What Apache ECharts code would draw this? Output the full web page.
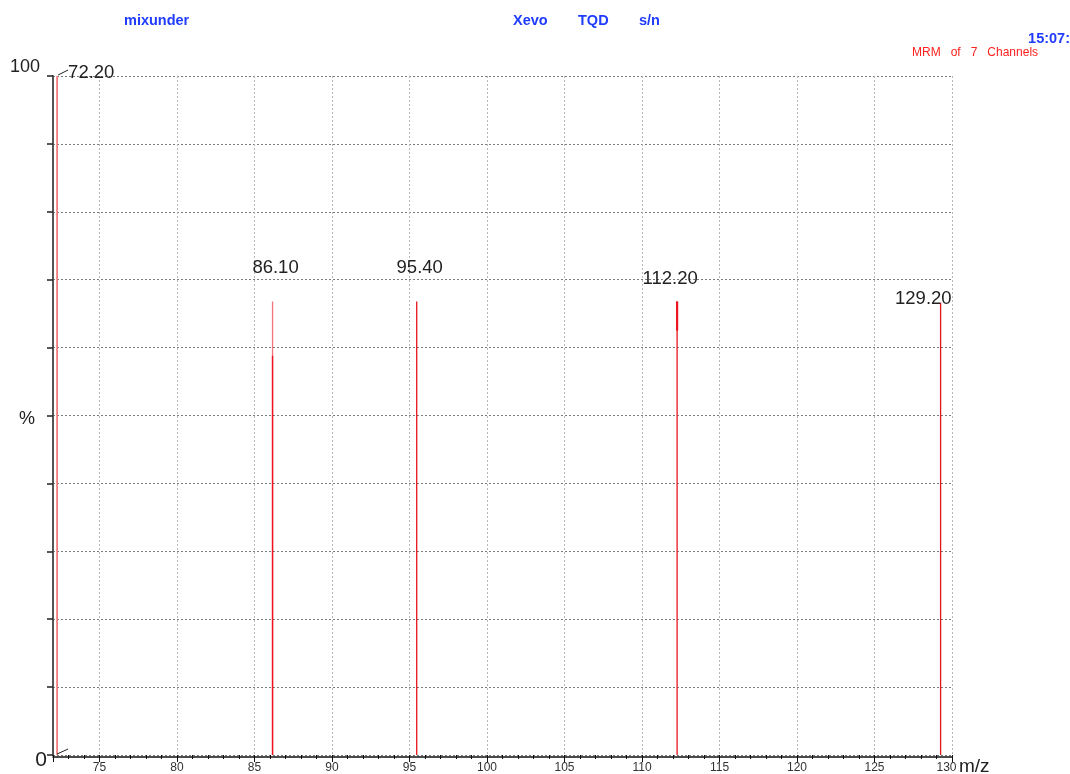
<!DOCTYPE html>
<html>
<head>
<meta charset="utf-8">
<script src="https://cdn.jsdelivr.net/npm/echarts@6/dist/echarts.min.js"></script>
<style>
  html, body { margin: 0; padding: 0; background: #fff; }
  #chart { width: 1070px; height: 774px; }
</style>
</head>
<body>
<div id="chart"></div>
<script>
// MRM spectrum: peak m/z values and relative intensities (%)
const peakMz = [72.2, 86.1, 95.4, 112.2, 129.2];
const peakIntensity = [100, 66.8, 66.8, 66.8, 66.6];
const peakLabels = ['72.20', '86.10', '95.40', '112.20', '129.20'];

// overlapping channel traces drawn on top of the main sticks
const traceMz = [86.1, 112.2];
const traceFrom = [0, 62.5];
const traceTo = [58.8, 66.8];

// axis range
const mzMin = 72;
const mzMax = 130;

// label placement relative to the stick top: [dx, dy, align]
const labelPlacement = [
  [12, 6, 'left'],
  [4, -24, 'center'],
  [4, -24, 'center'],
  [-6, -13, 'center'],
  [12, 6, 'right']
];

const FONT = '"Liberation Sans", Arial, sans-serif';

const chart = echarts.init(document.getElementById('chart'), null, { renderer: 'canvas' });

const stickData = peakMz.map((m, i) => [m, peakIntensity[i], i]);
const traceData = traceMz.map((m, i) => [m, traceFrom[i], traceTo[i], i]);

function renderStick(params, api) {
  const x = api.value(0), y = api.value(1), idx = api.value(2);
  const top = api.coord([x, y]);
  const base = api.coord([x, 0]);
  const px = top[0] + 1;
  return {
    type: 'line',
    shape: { x1: px, y1: base[1], x2: px, y2: top[1] },
    style: {
      stroke: idx === 0 ? '#f47c7c' : (idx === 1 ? '#f4707a' : '#e8141c'),
      lineWidth: idx === 0 ? 1.8 : 1.3
    }
  };
}

function renderTrace(params, api) {
  const x = api.value(0), y0 = api.value(1), y1 = api.value(2), idx = api.value(3);
  const a = api.coord([x, y0]);
  const b = api.coord([x, y1]);
  const px = a[0] + 1;
  return {
    type: 'line',
    shape: { x1: px, y1: a[1], x2: px, y2: b[1] },
    style: { stroke: '#ee1420', lineWidth: idx === 0 ? 1.4 : 2.2 }
  };
}

function renderLabel(params, api) {
  const x = api.value(0), y = api.value(1), idx = api.value(2);
  const top = api.coord([x, y]);
  const base = api.coord([x, 0]);
  const p = labelPlacement[idx];
  const children = [{
    type: 'text',
    x: top[0] + p[0],
    y: top[1] + p[1],
    style: {
      text: peakLabels[idx],
      font: '18.5px ' + FONT,
      fill: '#222',
      align: p[2],
      verticalAlign: 'bottom'
    }
  }];
  if (idx === 0) {
    // leader lines for the first peak
    children.push({
      type: 'line',
      shape: { x1: top[0] + 2, y1: top[1] - 1, x2: top[0] + 12, y2: top[1] - 6 },
      style: { stroke: '#222', lineWidth: 1 }
    });
    children.push({
      type: 'line',
      shape: { x1: base[0] + 1, y1: base[1] - 1, x2: base[0] + 12, y2: base[1] - 6 },
      style: { stroke: '#222', lineWidth: 1 }
    });
  }
  return { type: 'group', children: children };
}

const option = {
  animation: false,
  backgroundColor: '#fff',
  grid: { left: 53, right: 118, top: 76, bottom: 19, containLabel: false, outerBoundsMode: 'none' },
  graphic: [
    { type: 'text', left: 124, top: 13, style: { text: 'mixunder', font: 'bold 14.5px ' + FONT, fill: '#1f3cff' } },
    { type: 'text', left: 513, top: 13, style: { text: 'Xevo', font: 'bold 14.5px ' + FONT, fill: '#1f3cff' } },
    { type: 'text', left: 578, top: 13, style: { text: 'TQD', font: 'bold 14.5px ' + FONT, fill: '#1f3cff' } },
    { type: 'text', left: 639, top: 13, style: { text: 's/n', font: 'bold 14.5px ' + FONT, fill: '#1f3cff' } },
    { type: 'text', right: 0, top: 31, style: { text: '15:07:', font: 'bold 14.5px ' + FONT, fill: '#1f3cff' } },
    { type: 'text', left: 912, top: 47, style: { text: 'MRM   of   7   Channels', font: '12px ' + FONT, fill: '#ff2020' } }
  ],
  xAxis: [{
    type: 'value',
    min: mzMin,
    max: mzMax,
    minInterval: 5,
    maxInterval: 5,
    splitNumber: 11,
    offset: 2,
    name: 'm/z',
    nameLocation: 'end',
    nameGap: 7,
    nameMoveOverlap: false,
    nameTextStyle: { fontFamily: FONT, fontSize: 19, color: '#222', align: 'left', verticalAlign: 'top', padding: [0, 0, 0, 0] },
    axisLine: { show: true, onZero: false, lineStyle: { color: '#111', width: 1.5 } },
    axisTick: { show: true, length: 5, lineStyle: { color: '#111' } },
    axisLabel: {
      fontFamily: FONT, fontSize: 12, color: '#333', margin: 5,
      formatter: v => (v === mzMax ? '{e|' + v + '}' : v % 5 === 0 ? String(v) : ''),
      rich: { e: { fontFamily: FONT, fontSize: 12, color: '#333', padding: [0, 11, 0, 0] } }
    },
    splitLine: { show: true, lineStyle: { color: '#b8b8b8', type: [2, 2], width: 1 } }
  }, {
    type: 'value',
    min: mzMin,
    max: mzMax,
    interval: 1,
    position: 'bottom',
    offset: 2,
    axisLine: { show: false },
    axisTick: { show: true, length: 4, lineStyle: { color: '#111' } },
    axisLabel: { show: false },
    splitLine: { show: false }
  }],
  yAxis: {
    type: 'value',
    min: 0,
    max: 100,
    interval: 10,
    axisLine: { show: true, lineStyle: { color: '#555', width: 2 } },
    axisTick: { show: true, length: 6, lineStyle: { color: '#222', width: 1.5 } },
    axisLabel: {
      margin: 6,
      color: '#222',
      fontFamily: FONT,
      formatter: v => (v === 100 ? '{t|100}' : v === 50 ? '{p|%}' : v === 0 ? '{z|0}' : ''),
      rich: {
        t: { fontSize: 18, fontFamily: FONT, color: '#222', padding: [0, 7, 18, 0] },
        p: { fontSize: 18, fontFamily: FONT, color: '#222', padding: [7, 12, 0, 0] },
        z: { fontSize: 21, fontFamily: FONT, color: '#222', padding: [11, 0, 0, 0] }
      }
    },
    splitLine: { show: true, lineStyle: { color: '#7a7a7a', type: [2, 2], width: 1 } }
  },
  series: [
    { type: 'custom', name: 'sticks', renderItem: renderStick, data: stickData, clip: false, z: 3 },
    { type: 'custom', name: 'traces', renderItem: renderTrace, data: traceData, clip: false, z: 4 },
    { type: 'custom', name: 'labels', renderItem: renderLabel, data: stickData, clip: false, z: 5 }
  ]
};

chart.setOption(option);
</script>
</body>
</html>
